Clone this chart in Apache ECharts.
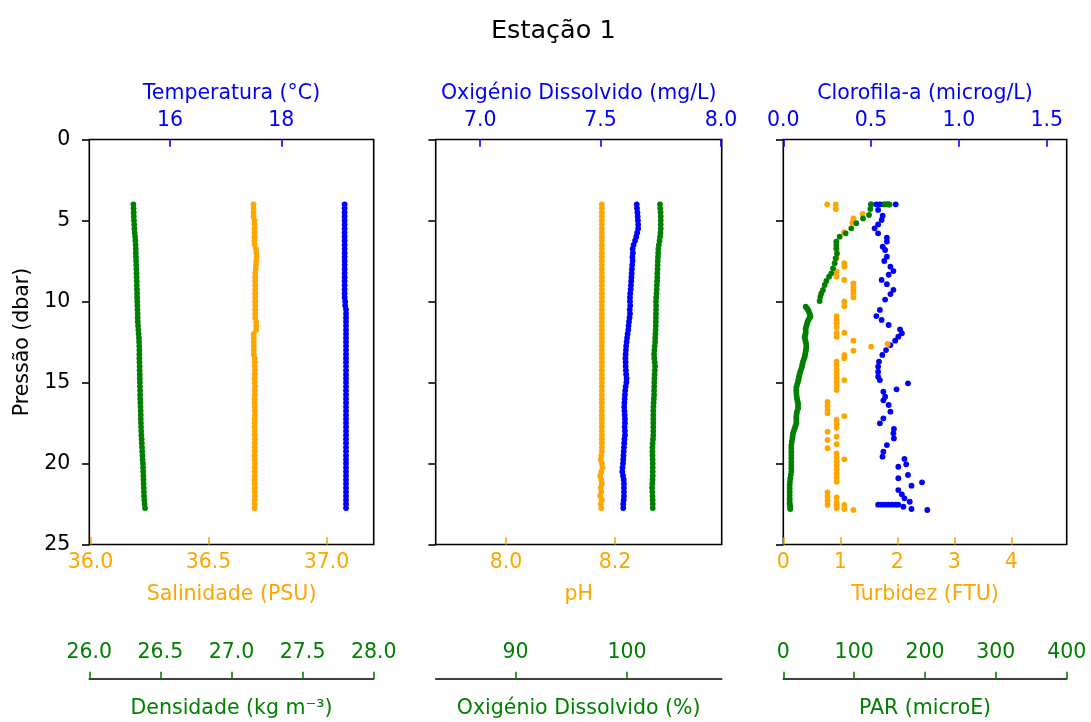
<!DOCTYPE html>
<html><head><meta charset="utf-8">
<script src="https://cdn.jsdelivr.net/npm/echarts@6/dist/echarts.min.js"></script>
<style>html,body{margin:0;padding:0;background:#fff}#c{width:1091px;height:722px}</style>
</head><body><div id="c"></div>
<script>
// ---------- DATA ----------
const pressao = [4.0,4.25,4.5,4.75,5.0,5.25,5.5,5.75,6.0,6.25,
 6.5,6.75,7.0,7.25,7.5,7.75,8.0,8.25,8.5,8.75,
 9.0,9.25,9.5,9.75,10.0,10.25,10.5,10.75,11.0,11.25,
 11.5,11.75,12.0,12.25,12.5,12.75,13.0,13.25,13.5,13.75,
 14.0,14.25,14.5,14.75,15.0,15.25,15.5,15.75,16.0,16.25,
 16.5,16.75,17.0,17.25,17.5,17.75,18.0,18.25,18.5,18.75,
 19.0,19.25,19.5,19.75,20.0,20.25,20.5,20.75,21.0,21.25,
 21.5,21.75,22.0,22.25,22.5,22.75];

const temperatura = [19.14,19.14,19.14,19.14,19.14,19.14,19.14,19.14,19.14,19.14,
 19.14,19.14,19.14,19.14,19.14,19.14,19.14,19.14,19.14,19.14,
 19.14,19.14,19.14,19.14,19.15,19.15,19.165,19.165,19.165,19.165,
 19.165,19.165,19.165,19.165,19.165,19.165,19.165,19.165,19.165,19.165,
 19.165,19.165,19.165,19.165,19.165,19.165,19.165,19.165,19.165,19.165,
 19.165,19.165,19.165,19.165,19.165,19.165,19.165,19.165,19.165,19.165,
 19.165,19.165,19.165,19.165,19.165,19.165,19.165,19.165,19.165,19.165,
 19.165,19.165,19.165,19.165,19.165,19.165];

const salinidade = [36.691,36.691,36.691,36.691,36.695,36.695,36.695,36.695,36.695,36.695,
 36.695,36.701,36.703,36.704,36.702,36.701,36.700,36.698,36.698,36.698,
 36.698,36.698,36.698,36.698,36.698,36.698,36.698,36.698,36.698,36.702,
 36.702,36.702,36.692,36.692,36.692,36.692,36.692,36.692,36.696,36.696,
 36.696,36.697,36.696,36.695,36.696,36.697,36.696,36.696,36.695,36.696,
 36.696,36.697,36.697,36.696,36.696,36.695,36.696,36.696,36.697,36.696,
 36.696,36.696,36.695,36.696,36.697,36.696,36.696,36.696,36.695,36.696,
 36.696,36.696,36.697,36.696,36.696,36.695];

const densidade = [26.310,26.311,26.312,26.313,26.314,26.316,26.317,26.319,26.322,26.324,
 26.326,26.327,26.327,26.328,26.329,26.330,26.331,26.332,26.333,26.334,
 26.334,26.335,26.336,26.336,26.337,26.338,26.339,26.340,26.340,26.341,
 26.343,26.345,26.347,26.349,26.350,26.351,26.352,26.352,26.352,26.353,
 26.354,26.354,26.355,26.355,26.356,26.356,26.357,26.357,26.358,26.359,
 26.360,26.361,26.362,26.362,26.363,26.364,26.365,26.366,26.368,26.369,
 26.371,26.372,26.374,26.375,26.377,26.378,26.379,26.380,26.381,26.382,
 26.383,26.384,26.385,26.387,26.389,26.392];

const oxigenioMg = [7.650,7.651,7.653,7.654,7.655,7.656,7.656,7.652,7.648,7.643,
 7.637,7.633,7.634,7.632,7.633,7.631,7.630,7.629,7.628,7.627,
 7.626,7.625,7.623,7.622,7.622,7.623,7.621,7.622,7.620,7.618,
 7.616,7.615,7.612,7.610,7.608,7.606,7.605,7.604,7.603,7.604,
 7.604,7.605,7.606,7.608,7.607,7.604,7.602,7.601,7.600,7.599,
 7.598,7.599,7.600,7.601,7.601,7.600,7.601,7.601,7.599,7.598,
 7.597,7.596,7.595,7.594,7.593,7.591,7.590,7.593,7.596,7.597,
 7.597,7.597,7.597,7.596,7.594,7.594];

const ph = [8.176,8.176,8.176,8.176,8.176,8.176,8.176,8.176,8.176,8.176,
 8.176,8.176,8.176,8.176,8.176,8.176,8.176,8.176,8.176,8.176,
 8.176,8.176,8.176,8.176,8.176,8.176,8.176,8.176,8.176,8.176,
 8.176,8.176,8.176,8.176,8.176,8.176,8.176,8.176,8.176,8.176,
 8.176,8.176,8.176,8.176,8.176,8.176,8.176,8.176,8.176,8.176,
 8.176,8.176,8.176,8.176,8.176,8.176,8.176,8.176,8.176,8.176,
 8.176,8.176,8.175,8.174,8.176,8.177,8.175,8.173,8.175,8.176,
 8.174,8.175,8.173,8.176,8.174,8.175];

const oxigenioPct = [102.96,102.98,103.01,103.03,103.03,103.03,103.03,103.00,102.97,102.92,
 102.86,102.81,102.80,102.78,102.76,102.75,102.74,102.72,102.72,102.70,
 102.68,102.67,102.65,102.62,102.60,102.61,102.60,102.60,102.59,102.59,
 102.58,102.57,102.55,102.53,102.52,102.49,102.46,102.43,102.45,102.49,
 102.52,102.50,102.48,102.46,102.45,102.44,102.43,102.43,102.41,102.39,
 102.37,102.36,102.36,102.36,102.36,102.36,102.36,102.36,102.33,102.30,
 102.28,102.28,102.29,102.30,102.31,102.31,102.31,102.31,102.29,102.27,
 102.25,102.27,102.29,102.30,102.31,102.31];

const clorofilaP = [4.0,4.0,4.0,4.0,4.0,4.0,4.35,4.7,4.97,5.24,5.48,5.79,
 6.06,6.3,6.62,6.82,7.23,7.5,7.85,8.12,8.35,8.67,
 8.93,9.28,9.54,9.88,10.52,10.9,11.14,11.45,11.72,11.96,
 12.17,12.42,12.69,13.0,13.3,13.72,14.02,14.33,14.64,14.85,
 15.05,15.42,15.57,15.88,16.1,16.39,16.8,17.21,17.52,17.87,
 18.14,18.45,18.86,19.27,19.58,19.72,20.05,20.2,20.71,20.91,
 21.16,21.37,21.64,21.9,22.15,22.36,
 22.54,22.54,22.54,22.54,22.54,22.54,22.54,22.67,22.81,22.87];
const clorofila = [0.50,0.53,0.55,0.57,0.60,0.64,0.54,0.566,0.56,0.54,0.52,0.54,
 0.59,0.59,0.566,0.58,0.59,0.575,0.61,0.627,0.60,0.56,
 0.59,0.627,0.61,0.58,0.55,0.53,0.56,0.60,0.665,0.675,
 0.655,0.637,0.61,0.585,0.564,0.545,0.54,0.54,0.54,0.55,
 0.71,0.645,0.57,0.58,0.57,0.60,0.61,0.57,0.55,0.63,
 0.627,0.63,0.59,0.57,0.565,0.69,0.70,0.655,0.71,0.655,
 0.79,0.73,0.655,0.675,0.69,0.72,
 0.54,0.56,0.58,0.60,0.62,0.64,0.655,0.684,0.73,0.82];

const turbidezP = [4.0,4.0,4.29,4.6,4.87,5.13,5.73,6.3,6.8,7.3,
 7.64,7.85,8.16,8.47,8.67,8.88,9.1,9.3,9.5,9.75,
 10.0,10.3,10.9,11.14,11.35,11.6,11.95,12.17,11.93,12.42,
 12.79,12.62,13.04,13.3,13.5,13.72,13.97,14.22,14.47,14.72,
 14.97,15.22,15.47,14.85,16.2,16.45,16.7,16.9,17.07,17.3,
 17.55,17.8,18.04,18.55,19.06,18.35,18.81,19.37,19.62,19.87,
 20.12,20.37,20.62,20.87,21.12,19.74,21.78,22.03,22.28,22.56,
 22.1,22.4,22.56,22.75,22.56,22.81,22.87];
const turbidez = [0.77,0.92,0.92,1.39,1.23,1.21,1.065,0.935,0.935,0.935,
 1.07,1.07,0.935,0.935,1.07,1.23,1.23,1.23,1.23,1.23,
 1.07,1.07,0.935,0.935,0.935,0.935,0.935,0.935,1.07,1.23,
 1.54,1.83,1.23,1.07,1.07,0.935,0.935,0.935,0.935,0.935,
 0.935,0.935,0.935,1.07,0.776,0.776,0.776,0.776,1.07,0.935,
 0.935,0.935,0.776,0.776,0.776,0.935,0.935,0.935,0.935,0.935,
 0.935,0.935,0.935,0.935,0.935,1.07,0.776,0.776,0.776,0.776,
 0.935,0.935,0.935,0.935,1.07,1.07,1.23];

const parP = [4.0,4.0,4.0,4.0,4.0,4.02,4.29,4.66,4.87,5.17,
 5.48,5.79,6.0,6.31,6.51,6.72,7.03,7.34,7.64,7.95,
 8.26,8.47,8.73,8.98,9.29,9.5,9.7,9.97,
 10.32,10.42,10.52,10.64,10.77,10.87,10.94,11.06,11.18,11.29,
 11.39,11.52,11.66,11.81,11.96,12.08,12.21,12.35,12.48,12.63,
 12.79,12.94,13.1,13.25,13.41,13.56,13.72,13.87,14.02,14.17,
 14.33,14.48,14.64,14.8,14.95,15.12,15.3,15.48,15.67,15.82,
 15.98,16.14,16.29,16.45,16.6,16.8,16.95,17.1,17.21,17.37,
 17.52,17.68,17.83,17.98,18.14,18.3,18.45,18.65,18.86,19.06,
 19.27,19.47,19.68,19.9,20.1,20.3,20.5,20.7,20.91,21.12,
 21.33,21.53,21.74,21.95,22.15,22.3,22.46,22.56,22.67,22.75,22.81];
const par = [124,143,145,147,149,150,122.8,121,112.5,103,
 96,88,79.6,74.8,74.8,74.8,75.8,73.9,72.5,70.2,
 67.8,64.5,60.8,58.4,56.0,53.7,52.3,51.3,
 31.6,33.5,35.0,36.3,37.2,38.0,38.2,36.5,34.9,34.0,
 33.5,32.5,31.6,31.6,31.6,30.8,30.2,30.8,31.6,32.2,
 32.5,32.0,31.6,30.8,30.2,29.0,27.8,27.0,26.4,25.2,
 24.0,23.0,22.2,21.5,20.8,19.5,18.4,18.2,18.4,18.8,
 19.3,20.0,20.8,20.8,20.8,19.3,18.8,18.4,18.4,18.4,
 18.4,17.2,16.1,14.8,13.7,13.2,12.8,12.0,11.3,11.3,
 11.3,11.3,11.3,11.3,11.3,11.3,11.3,10.6,9.9,9.4,
 9.0,9.0,9.0,9.0,9.0,9.0,9.0,9.2,9.9,9.6,9.9];

// tick labels
const ticksTemp = [16,18];
const ticksSal = [36.0,36.5,37.0];
const ticksDens = [26.0,26.5,27.0,27.5,28.0];
const ticksOxMg = [7.0,7.5,8.0];
const ticksPh = [8.0,8.2];
const ticksOxPct = [90,100];
const ticksClor = [0.0,0.5,1.0,1.5];
const ticksTurb = [0,1,2,3,4];
const ticksPar = [0,100,200,300,400];

// ---------- CHART ----------
const FONT = 'DejaVu Sans';
const FS = 20.5;
const BLUE = '#0000ff', ORANGE = '#ffa500', GREEN = '#008000';
const pairs = (xs, ys) => xs.map((v, i) => [v, ys[i]]);

const gridBox = [
  {left: 89.3, width: 284.4},
  {left: 435.7, width: 286},
  {left: 783.3, width: 283.4}
];
const TOP = 139.5, H = 405;

function topAxis(g, name, min, max, ticks, dec) {
  return {type: 'value', gridIndex: g, position: 'top', min, max,
    name, nameLocation: 'middle', nameGap: 35,
    nameTextStyle: {color: BLUE, fontFamily: FONT, fontSize: FS},
    axisLine: {show: false, onZero: false}, splitLine: {show: false},
    axisTick: {show: true, inside: true, length: 7.3, lineStyle: {color: BLUE, width: 1.6}, customValues: ticks},
    axisLabel: {show: true, color: BLUE, fontFamily: FONT, fontSize: FS, margin: 8,
      showMinLabel: true, showMaxLabel: true, customValues: ticks,
      formatter: v => Number(v).toFixed(dec)}
  };
}
function bottomAxis(g, name, min, max, ticks, dec) {
  return {type: 'value', gridIndex: g, position: 'bottom', min, max,
    name, nameLocation: 'middle', nameGap: 40,
    nameTextStyle: {color: ORANGE, fontFamily: FONT, fontSize: FS},
    axisLine: {show: false, onZero: false}, splitLine: {show: false},
    axisTick: {show: true, inside: true, length: 7.3, lineStyle: {color: ORANGE, width: 1.6}, customValues: ticks},
    axisLabel: {show: true, color: ORANGE, fontFamily: FONT, fontSize: FS, margin: 8,
      showMinLabel: true, showMaxLabel: true, customValues: ticks,
      formatter: v => Number(v).toFixed(dec)}
  };
}
function greenAxis(g, name, min, max, ticks, dec) {
  return {type: 'value', gridIndex: g, position: 'bottom', offset: 134.5, min, max,
    name, nameLocation: 'middle', nameGap: 19,
    nameTextStyle: {color: GREEN, fontFamily: FONT, fontSize: FS},
    axisLine: {show: true, onZero: false, lineStyle: {color: '#000', width: 1.6}}, splitLine: {show: false},
    axisTick: {show: true, inside: true, length: 7.3, lineStyle: {color: GREEN, width: 1.6}, customValues: ticks},
    axisLabel: {show: true, inside: true, color: GREEN, fontFamily: FONT, fontSize: FS, margin: 16,
      showMinLabel: true, showMaxLabel: true, customValues: ticks,
      formatter: v => Number(v).toFixed(dec)}
  };
}
function yAxis(g) {
  return {type: 'value', gridIndex: g, inverse: true, min: 0, max: 25, interval: 5,
    name: g === 0 ? 'Pressão (dbar)' : '', nameLocation: 'middle', nameGap: 56,
    nameTextStyle: {color: '#000', fontFamily: FONT, fontSize: FS},
    axisLine: {show: false, onZero: false}, splitLine: {show: false},
    axisTick: {show: true, inside: false, length: 7.3, lineStyle: {color: '#000', width: 1.6}},
    axisLabel: {show: g === 0, color: '#000', fontFamily: FONT, fontSize: FS, margin: 19,
      showMinLabel: true, showMaxLabel: true}
  };
}
function sc(xi, yi, xs, ys, color) {
  return {type: 'scatter', xAxisIndex: xi, yAxisIndex: yi, data: pairs(xs, ys),
    symbol: 'circle', symbolSize: 5.8, silent: true,
    itemStyle: {color: color, opacity: 1}};
}

const chart = echarts.init(document.getElementById('c'), null, {renderer: 'canvas'});
chart.setOption({
  animation: false,
  backgroundColor: '#fff',
  title: {text: 'Estação 1', left: 486, top: 13,
    textStyle: {fontFamily: FONT, fontSize: 25.5, fontWeight: 'normal', color: '#000'}},
  grid: gridBox.map(b => ({left: b.left, width: b.width, top: TOP, height: H,
    show: true, borderColor: '#000', borderWidth: 1.6, backgroundColor: 'transparent',
    containLabel: false, outerBoundsMode: 'none'})),
  xAxis: [
    topAxis(0, 'Temperatura (°C)', 14.546, 19.663, ticksTemp, 0),
    bottomAxis(0, 'Salinidade (PSU)', 35.995, 37.2, ticksSal, 1),
    greenAxis(0, 'Densidade (kg m⁻³)', 26.0, 28.0, ticksDens, 1),
    topAxis(1, 'Oxigénio Dissolvido (mg/L)', 6.815, 8.003, ticksOxMg, 1),
    bottomAxis(1, 'pH', 7.871, 8.396, ticksPh, 1),
    greenAxis(1, 'Oxigénio Dissolvido (%)', 82.83, 108.5, ticksOxPct, 0),
    topAxis(2, 'Clorofila-a (microg/L)', 0, 1.614, ticksClor, 1),
    bottomAxis(2, 'Turbidez (FTU)', 0, 4.97, ticksTurb, 0),
    greenAxis(2, 'PAR (microE)', 0, 400, ticksPar, 0)
  ],
  yAxis: [yAxis(0), yAxis(1), yAxis(2)],
  series: [
    sc(0, 0, temperatura, pressao, BLUE),
    sc(1, 0, salinidade, pressao, ORANGE),
    sc(2, 0, densidade, pressao, GREEN),
    sc(3, 1, oxigenioMg, pressao, BLUE),
    sc(4, 1, ph, pressao, ORANGE),
    sc(5, 1, oxigenioPct, pressao, GREEN),
    sc(6, 2, clorofila, clorofilaP, BLUE),
    sc(7, 2, turbidez, turbidezP, ORANGE),
    sc(8, 2, par, parP, GREEN)
  ]
});
</script>
</body></html>
